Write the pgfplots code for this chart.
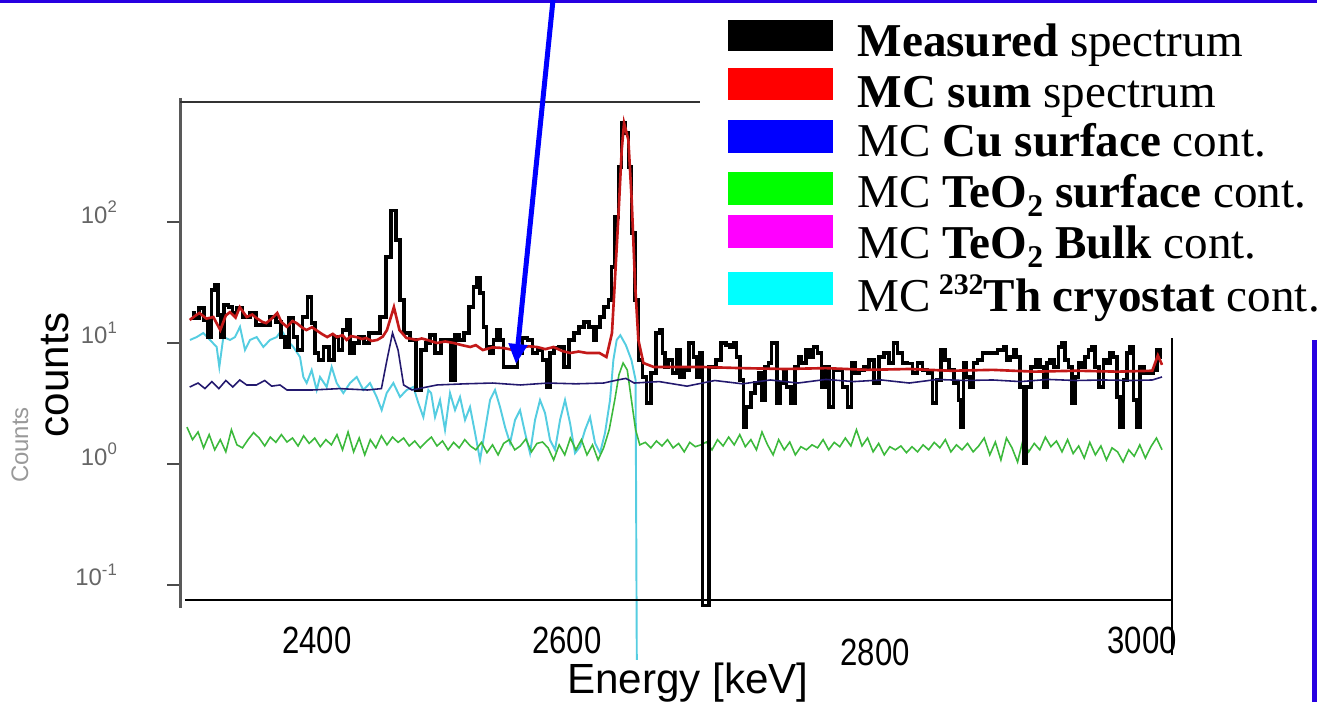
\documentclass[border=0pt]{standalone}
\usepackage{fontspec}
\setmainfont{Liberation Serif}
\setsansfont{Liberation Sans}
\usepackage{pgfplots}
\pgfplotsset{compat=1.18}
\usetikzlibrary{arrows.meta}

\definecolor{slideblue}{RGB}{40,0,225}
\definecolor{mcsum}{RGB}{195,25,25}
\definecolor{cusurf}{RGB}{35,25,110}
\definecolor{teosurf}{RGB}{60,185,60}
\definecolor{thcryo}{RGB}{85,205,225}
\definecolor{legred}{RGB}{255,0,0}
\definecolor{legblue}{RGB}{0,0,255}
\definecolor{leggreen}{RGB}{0,255,0}
\definecolor{legmag}{RGB}{255,0,255}
\definecolor{legcyan}{RGB}{0,255,255}

\begin{document}
\begin{tikzpicture}
% 1 px of the slide = 0.01 cm, origin top left
\useasboundingbox (0,0) rectangle (13.17,-7.02);

\node[rotate=90, text=black!40, font=\sffamily\fontsize{6.8}{8}\selectfont] at (0.20,-4.45) {Counts};

\begin{axis}[
    at={(1.80cm,-6.00cm)}, anchor=south west,
    scale only axis, width=9.92cm, height=4.98cm,
    xmin=2295, xmax=3009.2,
    ymode=log, ymin=0.0752, ymax=981,
    axis line style={draw=none},
    clip=false,
    xtick=\empty,
    ytick={0.1,1,10,100},
    yticklabels={10\textsuperscript{-1},10\textsuperscript{0},10\textsuperscript{1},10\textsuperscript{2}},
    yminorticks=false,
    ytick pos=left,
    tick align=outside, major tick length=0.13cm,
    ytick style={black!70, line width=0.6pt},
    yticklabel style={font=\sffamily\fontsize{6.8}{8}\selectfont, text=black!60, xshift=-0.36cm, yshift=0.1cm},
]
% MC 232Th cryostat
\addplot[thcryo, line width=0.55pt] coordinates {
(2302.2,10.6) (2307,11.2) (2311.8,12.1) (2316.6,10.6) (2321.4,9.27) (2323.3,6.34)
(2326.2,11.2) (2331,10.6) (2334.6,11.2) (2338.2,13.6) (2341.8,8.75) (2345.4,10.6)
(2350.2,11.2) (2355,9.27) (2359.8,10.6) (2364.6,11.2) (2368.2,12.8) (2371.8,10.6)
(2376.6,9.27) (2381.4,7.66) (2383.8,5.24) (2386.2,4.67) (2389.8,5.98) (2393.4,4.09)
(2395.8,5.24) (2400.6,4.33) (2404.2,6.34) (2407.8,4.67) (2412.6,3.86) (2417.4,4.67)
(2422.2,5.24) (2427,4.09) (2431.8,4.67) (2436.6,3.58) (2440.2,2.79) (2443.8,3.86)
(2448.6,4.67) (2453.4,3.58) (2458.2,4.09) (2463,4.33) (2466.6,3.19) (2470.2,2.44)
(2473.8,4.09) (2475.8,3.86) (2478.6,2.44) (2482.2,3.38) (2485.8,1.91) (2489.4,3.86)
(2493,2.79) (2496.6,3.58) (2500.2,2.31) (2503.8,2.96) (2507.4,1.81) (2511,1.08)
(2514.6,1.91) (2518.2,3.38) (2521.8,4.09) (2525.4,2.96) (2529,2.02) (2532.6,1.49)
(2536.2,2.31) (2539.8,2.79) (2543.4,1.81) (2547,1.23) (2550.6,2.31) (2554.2,3.38)
(2557.8,2.64) (2561.4,1.58) (2565,1.31) (2568.6,2.31) (2572.2,3.38) (2575.8,2.18)
(2579.4,1.23) (2583,1.39) (2586.6,1.91) (2590.2,2.44) (2593.8,1.49) (2597.4,1.23)
(2601,1.81) (2604.6,3.38) (2607,7.24) (2609.4,10.6) (2612,11.6) (2616,9.6)
(2620,7.24) (2623,4.95) (2624,0.011)
};
% MC TeO2 surface
\addplot[teosurf, line width=0.45pt] coordinates {
(2300,2.02) (2304,1.59) (2308,1.84) (2312,1.36) (2316,1.75) (2320,1.31) (2324,1.59)
(2328,1.26) (2332,1.92) (2336,1.44) (2340,1.36) (2344,1.59) (2348,1.82) (2352,1.64)
(2356,1.41) (2360,1.67) (2364,1.51) (2368,1.75) (2372,1.52) (2376,1.64) (2380,1.41)
(2384,1.71) (2388,1.48) (2392,1.64) (2396,1.39) (2400,1.59) (2404,1.44) (2408,1.75)
(2412,1.31) (2416,1.84) (2420,1.26) (2424,1.64) (2428,1.19) (2432,1.59) (2436,1.36)
(2440,1.71) (2444,1.44) (2448,1.67) (2452,1.51) (2456,1.64) (2460,1.41) (2464,1.55)
(2468,1.36) (2472,1.52) (2476,1.67) (2480,1.41) (2484,1.55) (2488,1.31) (2492,1.51)
(2496,1.36) (2500,1.59) (2504,1.41) (2508,1.31) (2512,1.51) (2516,1.24) (2520,1.44)
(2524,1.19) (2528,1.48) (2532,1.59) (2536,1.31) (2540,1.41) (2544,1.61) (2548,1.26)
(2552,1.48) (2556,1.52) (2560,1.36) (2564,1.08) (2568,1.44) (2572,1.19) (2576,1.64)
(2580,1.31) (2584,1.59) (2588,1.19) (2592,1.44) (2596,1.08) (2600,1.36) (2604,1.92)
(2608,3.38) (2611,5.46) (2614,6.84) (2617,5.98) (2620,3.38) (2623,1.92) (2626,1.44)
(2630,1.51) (2634,1.36) (2638,1.55) (2642,1.41) (2646,1.59) (2650,1.36) (2654,1.48)
(2658,1.26) (2662,1.51) (2666,1.39) (2670,1.44) (2674,1.52) (2678,1.31) (2682,1.59)
(2686,1.41) (2690,1.67) (2694,1.44) (2698,1.75) (2702,1.39) (2706,1.59) (2710,1.31)
(2714,1.84) (2718,1.44) (2722,1.19) (2726,1.59) (2730,1.31) (2734,1.52) (2738,1.19)
(2742,1.39) (2746,1.31) (2750,1.44) (2754,1.36) (2758,1.59) (2762,1.31) (2766,1.51)
(2770,1.39) (2774,1.64) (2778,1.41) (2782,1.92) (2786,1.41) (2790,1.64) (2794,1.26)
(2798,1.48) (2802,1.19) (2806,1.39) (2810,1.31) (2814,1.41) (2818,1.24) (2822,1.39)
(2826,1.26) (2830,1.44) (2834,1.31) (2838,1.51) (2842,1.36) (2846,1.59) (2850,1.26)
(2854,1.44) (2858,1.31) (2862,1.48) (2866,1.26) (2870,1.41) (2874,1.64) (2878,1.19)
(2882,1.52) (2886,1.08) (2890,1.64) (2894,1.36) (2898,1.04) (2902,1.59) (2906,1.26)
(2910,1.48) (2914,1.31) (2918,1.67) (2922,1.39) (2926,1.55) (2930,1.26) (2934,1.59)
(2938,1.22) (2942,1.41) (2946,1.12) (2950,1.51) (2954,1.19) (2958,1.41) (2962,1.08)
(2966,1.36) (2970,1.26) (2974,1.04) (2978,1.31) (2982,1.16) (2986,1.44) (2990,1.12)
(2994,1.39) (2998,1.64) (3002,1.31)
};
% Measured spectrum
\addplot[black, line width=1pt, const plot mark mid] coordinates {
(2303.4,17.7) (2307,16.1) (2310.6,19.5) (2314,15.5) (2316.6,11.2) (2319,27.4)
(2321,30.1) (2324,17.0) (2325,11.2) (2328.6,20.6) (2331,19.8) (2334.6,17.7)
(2337,19.5) (2343,16.4) (2347.8,17.7) (2351.4,14.1) (2357.4,14.1) (2362.2,16.4)
(2365.8,14.9) (2369.4,11.2) (2371.8,9.27) (2375.4,16.1) (2377.8,11.2) (2381.4,8.75)
(2385,16.4) (2388.6,24.0) (2391,14.6) (2393.4,8.27) (2395.8,7.24) (2400.6,9.27)
(2404.2,7.24) (2407.8,11.2) (2410.2,8.75) (2413.8,12.8) (2416.2,15.5) (2418.6,8.27)
(2422.2,10.0) (2425.8,11.2) (2429.4,10.0) (2433,12.1) (2436.6,12.1) (2441.4,16.4)
(2445,51.4) (2448.6,125) (2452.2,71) (2454.6,22.7) (2458.2,12.1) (2463,10.6)
(2466.6,4.09) (2470.2,8.75) (2473.8,10.0) (2476.2,11.6) (2481,8.27) (2484.6,10.6)
(2488.2,10.6) (2491.8,4.95) (2494.2,11.6) (2497.8,10.6) (2501.4,12.1) (2505,19.8)
(2507.4,29.0) (2509.8,34.5) (2512.2,25.9) (2514.6,13.6) (2517,9.27) (2519.4,8.27)
(2521.8,10.6) (2524.2,12.8) (2526.6,10.6) (2529,6.34) (2532.6,6.34) (2536.2,6.34)
(2539.8,8.27) (2543.4,11.0) (2547,10.6) (2550.6,8.27) (2554.2,8.75) (2557.8,7.24)
(2560.2,4.33) (2562.6,8.27) (2566.2,9.09) (2569.8,9.27) (2573.4,6.34) (2577,10.6)
(2580.6,12.1) (2584.2,13.6) (2587.8,14.9) (2591.4,13.6) (2593.8,10.6) (2596.2,13.6)
(2598.6,16.4) (2602.2,19.8) (2604.6,22.7) (2607,42.5) (2609.4,110) (2611.8,285)
(2614.2,658) (2616.6,544) (2619,285) (2621.4,81) (2623.8,22.7) (2626.2,7.24)
(2629.8,5.24) (2632.2,3.19) (2635.8,5.65) (2639.4,12.1) (2641.8,12.8) (2643,8.27)
(2645.4,6.34) (2647.8,7.24) (2651.4,5.65) (2653.8,8.75) (2656.2,5.24) (2659.8,5.98)
(2663.4,10.0) (2665.8,7.66) (2668.2,5.24) (2670.8,8.27) (2671.8,0.068) (2674.5,0.068)
(2677.3,6.34) (2679,6.34) (2682.6,7.24) (2686.2,10.0) (2689.8,9.6) (2692.2,9.27)
(2694.6,10.0) (2697,7.66) (2699.4,4.95) (2701.8,2.02) (2704.2,2.96) (2707.8,3.86)
(2710.2,4.67) (2712.6,5.65) (2715,3.38) (2717.4,6.34) (2719.8,6.84) (2722.2,10.0)
(2724.1,10.0) (2725.8,3.19) (2728.2,4.67) (2730.6,5.98) (2733,4.33) (2736.6,3.19)
(2739,6.34) (2741.4,7.66) (2743.8,6.84) (2747.4,8.75) (2749.8,7.66) (2752.2,9.27)
(2755.8,8.27) (2758.2,4.33) (2760.6,6.34) (2764.2,2.96) (2766.6,5.98) (2770.2,5.98)
(2773.8,4.33) (2777.4,2.96) (2779.8,6.84) (2782.2,5.65) (2785.8,5.98) (2789.4,6.34)
(2793,7.24) (2796.6,4.67) (2800.2,7.66) (2803.8,8.27) (2807.4,6.84) (2809.8,10.0)
(2813.4,8.27) (2817,6.84) (2820.6,6.8) (2824.2,5.65) (2827.8,6.84) (2831.4,5.98)
(2835,5.65) (2838.6,3.19) (2841,4.95) (2844.6,8.75) (2847,7.24) (2850.6,5.98)
(2854.2,4.67) (2856.6,3.38) (2857.8,2.02) (2860.2,6.84) (2862.6,5.24) (2865,4.33)
(2867.4,6.84) (2871,7.24) (2874.6,8.27) (2880.6,8.27) (2886.6,8.75) (2889,9.27)
(2891.4,7.24) (2893.8,7.66) (2896.2,8.75) (2898.6,7.66) (2901,4.33) (2903.4,1.02)
(2905.8,4.33) (2909.4,6.34) (2913,7.24) (2915.4,6.34) (2917.8,4.33) (2920.2,6.84)
(2922.6,7.24) (2926.2,6.34) (2928.6,9.27) (2931,10.0) (2933.4,7.24) (2935.8,6.34)
(2938.2,3.19) (2940.6,5.24) (2943,6.84) (2945.4,6.34) (2947.8,7.66) (2950.2,8.75)
(2952.6,9.27) (2955,6.34) (2958.6,4.33) (2961,7.24) (2963.4,6.84) (2965.8,8.27)
(2968.2,7.66) (2970.6,3.58) (2973,2.02) (2975.4,4.95) (2977.8,8.27) (2980.2,9.27)
(2982.6,3.38) (2985,2.02) (2987.4,6.34) (2991,5.65) (2994.6,5.65) (2997,5.98)
(2999.4,8.75) (3001.8,7.66)
};
% MC sum spectrum
\addplot[mcsum, line width=0.75pt] coordinates {
(2302,15.5) (2306,16.8) (2309,17.7) (2314,15.9) (2319,16.4) (2324,12.8) (2328,16.9)
(2331,18.0) (2335,16.2) (2338,19.8) (2343,16.4) (2347,17.2) (2350,16.1) (2354,15.0)
(2357,14.6) (2361,15.9) (2365,17.7) (2368,14.9) (2372,13.6) (2376,15.2) (2379,14.6)
(2383,13.4) (2386,12.8) (2390,13.5) (2393,12.8) (2397,11.9) (2401,11.2) (2405,11.9)
(2408,11.2) (2412,11.6) (2415,10.6) (2418,11.4) (2422,11.2) (2426,10.8) (2429,11.0)
(2433,10.4) (2437,10.6) (2441,11.3) (2444,12.8) (2449,19.8) (2453,12.8) (2458,11.0)
(2462,10.8) (2465,10.6) (2469,10.9) (2473,10.6) (2480,10.0) (2486,10.3) (2492,10.0)
(2498,9.6) (2504,9.27) (2508,9.6) (2513,8.75) (2520,9.2) (2528,9.09) (2534,8.8)
(2540,9.09) (2546,9.4) (2552,9.27) (2558,8.9) (2564,9.27) (2570,8.6) (2576,8.27)
(2582,8.5) (2588,8.27) (2597,8.27) (2602,7.66) (2606,12.1) (2608,31.3) (2610.6,110)
(2613,394) (2614.7,658) (2617.8,476) (2620.2,152) (2622.6,31.3) (2625,10.6)
(2628.6,6.84) (2636,6.34) (2645,6.34) (2670,6.34) (2700,6.2) (2730,6.1) (2760,6.2)
(2790,6.0) (2820,6.1) (2850,5.9) (2880,6.0) (2910,5.8) (2940,5.9) (2970,5.8)
(2995,5.9) (2999,7.9) (3002,6.6)
};
% MC Cu surface
\addplot[cusurf, line width=0.45pt] coordinates {
(2302,4.33) (2308,4.67) (2313,4.2) (2318,4.8) (2323,4.2) (2328,4.9) (2333,4.33)
(2338,4.95) (2343,4.5) (2350,4.5) (2356,4.9) (2361,4.4) (2367,4.5) (2372,4.09)
(2390,4.09) (2410,4.2) (2430,4.09) (2440,4.2) (2444,7.24) (2448,12.1) (2452,8.75)
(2456,4.5) (2462,4.09) (2480,4.5) (2500,4.6) (2520,4.67) (2540,4.5) (2560,4.67)
(2580,4.6) (2600,4.67) (2610,4.95) (2616,5.1) (2622,4.67) (2640,4.8) (2660,4.4)
(2680,4.9) (2700,4.6) (2720,4.95) (2740,4.67) (2760,5.0) (2780,4.8) (2800,4.95)
(2820,4.67) (2840,5.0) (2860,4.9) (2880,4.95) (2900,4.8) (2920,5.0) (2940,4.9)
(2960,4.95) (2980,4.9) (2995,4.95) (3002,5.24)
};
\end{axis}

% frame of the pasted plot
\draw[black!65, line width=0.03cm] (1.80,-0.98) -- (1.80,-6.08);
\draw[black!80, line width=0.02cm] (1.80,-1.02) -- (7.00,-1.02);
\draw[black, line width=0.015cm] (1.85,-6.00) -- (11.72,-6.00);
\draw[black, line width=0.015cm] (11.72,-3.38) -- (11.72,-6.55);

% axis texts
\node[rotate=90, font=\sffamily\fontsize{12}{14}\selectfont] at (0.55,-3.75) {counts};
\begin{scope}[every node/.style={font=\sffamily\fontsize{10.8}{12}\selectfont, xscale=0.82}]
  \node at (3.17,-6.40) {2400};
  \node at (5.67,-6.40) {2600};
  \node at (8.75,-6.52) {2800};
  \node at (11.42,-6.40) {3000};
\end{scope}
\node[fill=white, inner sep=1pt, font=\sffamily\fontsize{12}{14}\selectfont] at (6.88,-6.83) {Energy [keV]};

% legend box of the slide
\fill[white] (7.00,-0.03) rectangle (13.17,-3.38);
\fill[black]    (7.28,-0.20) rectangle (8.33,-0.51);
\fill[legred]   (7.28,-0.68) rectangle (8.33,-1.00);
\fill[legblue]  (7.28,-1.20) rectangle (8.33,-1.53);
\fill[leggreen] (7.28,-1.72) rectangle (8.33,-2.05);
\fill[legmag]   (7.28,-2.15) rectangle (8.33,-2.48);
\fill[legcyan]  (7.28,-2.72) rectangle (8.33,-3.05);
\begin{scope}[every node/.style={anchor=base west, inner sep=0pt, font=\fontsize{13.4}{15}\selectfont}]
  \node at (8.57,-0.57) {\textbf{Measured} spectrum};
  \node at (8.57,-1.08) {\textbf{MC sum} spectrum};
  \node at (8.57,-1.57) {MC \textbf{Cu surface} cont.};
  \node at (8.57,-2.08) {MC \textbf{TeO\raisebox{-0.18em}{\fontsize{9}{9}\selectfont 2} surface} cont.};
  \node at (8.57,-2.59) {MC \textbf{TeO\raisebox{-0.18em}{\fontsize{9}{9}\selectfont 2} Bulk} cont.};
  \node at (8.57,-3.11) {MC\,\raisebox{0.34em}{\fontsize{8.5}{9}\selectfont\textbf{232}}\textbf{Th cryostat} cont.};
\end{scope}

% slide border and arrow
\fill[slideblue] (0,0) rectangle (13.17,-0.035);
\fill[slideblue] (13.12,-3.40) rectangle (13.17,-7.02);
\draw[blue, line width=0.05cm, -{Triangle[length=0.2cm,width=0.18cm]}] (5.53,0) -- (5.16,-3.64);
\end{tikzpicture}
\end{document}
